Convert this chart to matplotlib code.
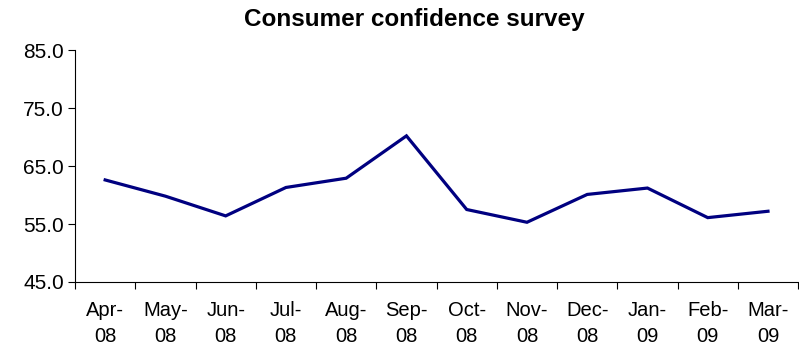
import matplotlib
matplotlib.use("Agg")
import matplotlib.pyplot as plt
from matplotlib.ticker import FormatStrFormatter

plt.rcParams["font.family"] = ["Liberation Sans", "DejaVu Sans"]

months = ["Apr-\n08", "May-\n08", "Jun-\n08", "Jul-\n08", "Aug-\n08", "Sep-\n08",
          "Oct-\n08", "Nov-\n08", "Dec-\n08", "Jan-\n09", "Feb-\n09", "Mar-\n09"]
confidence = [62.6, 59.8, 56.4, 61.3, 62.9, 70.2, 57.5, 55.3, 60.1, 61.2, 56.1, 57.2]
y_ticks = [45.0, 55.0, 65.0, 75.0, 85.0]

fig = plt.figure(figsize=(7.99, 3.5), dpi=100)
ax = fig.add_axes([0.0939, 0.1943, 0.905, 0.6627])

x = range(len(months))
ax.plot(x, confidence, color="#000080", lw=2.3, solid_joinstyle="miter")

ax.set_xlim(-0.5, len(months) - 0.5)
ax.set_ylim(45, 85)
ax.set_yticks(y_ticks)
ax.yaxis.set_major_formatter(FormatStrFormatter("%.1f"))

# category boundaries carry the tick marks, labels sit between them
ax.set_xticks([i - 0.5 for i in range(len(months) + 1)])
ax.set_xticklabels([])
ax.set_xticks(list(x), minor=True)
ax.set_xticklabels(months, minor=True, fontsize=14.5, linespacing=1.45)
ax.tick_params(axis="x", which="minor", length=0, pad=14)
ax.tick_params(axis="x", which="major", length=5, width=0.8, direction="out")
ax.tick_params(axis="y", length=5, width=0.8, labelsize=15, pad=3)

for side in ("top", "right"):
    ax.spines[side].set_visible(False)
for side in ("left", "bottom"):
    ax.spines[side].set_linewidth(0.8)

fig.text(0.518, 0.943, "Consumer confidence survey", ha="center", va="center",
         fontsize=17.5, fontweight="bold")

fig.savefig("out.png", dpi=100)
